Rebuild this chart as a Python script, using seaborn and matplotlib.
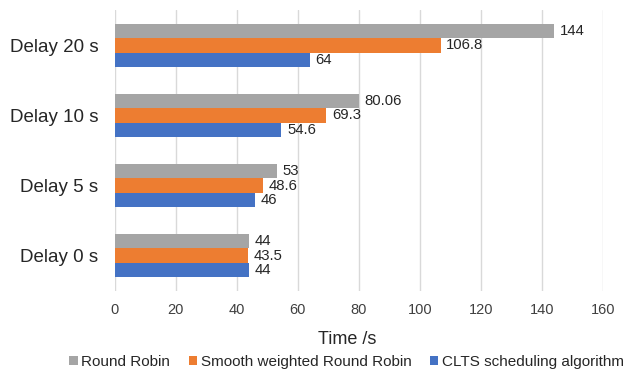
import numpy as np
import pandas as pd
import matplotlib
matplotlib.use('Agg')
import matplotlib.pyplot as plt
import seaborn as sns

# Data
delays = ['Delay 20 s', 'Delay 10 s', 'Delay 5 s', 'Delay 0 s']
algorithms = ['Round Robin', 'Smooth weighted Round Robin', 'CLTS scheduling algorithm']
round_robin = [144, 80.06, 53, 44]
smooth_wrr = [106.8, 69.3, 48.6, 43.5]
clts = [64, 54.6, 46, 44]
colors = ['#A5A5A5', '#ED7D31', '#4472C4']

df = pd.DataFrame({
    'delay': delays * 3,
    'algorithm': np.repeat(algorithms, len(delays)),
    'time': round_robin + smooth_wrr + clts,
})

sns.set_style('white')
plt.rcParams['font.family'] = ['Liberation Sans', 'DejaVu Sans']
txt = '#262626'

fig = plt.figure(figsize=(6.28, 3.73), dpi=100)
ax = fig.add_axes([0.183, 0.221, 0.777, 0.751])

sns.barplot(data=df, y='delay', x='time', hue='algorithm', order=delays,
            hue_order=algorithms, palette=colors, orient='h', width=0.62,
            gap=0, linewidth=0, saturation=1, ax=ax, legend=True)

# value labels at bar ends
for cont in ax.containers:
    vals = [r.get_width() for r in cont]
    ax.bar_label(cont, labels=[f'{v:g}' for v in vals], padding=4,
                 fontsize=10.7, color=txt)

ax.set_xlim(0, 160)
ax.set_xticks(np.arange(0, 161, 20))
ax.grid(axis='x', color='#D9D9D9', linewidth=1)
ax.set_axisbelow(True)
for s in ax.spines.values():
    s.set_visible(False)
ax.tick_params(axis='x', labelsize=10.5, colors='#404040', pad=9, length=0)
ax.tick_params(axis='y', labelsize=13.5, colors=txt, pad=12, length=0)
ax.set_ylabel('')
ax.set_xlabel('Time /s', fontsize=13, color=txt)
ax.xaxis.set_label_coords(0.475, -0.143)

ax.legend(loc='center', bbox_to_anchor=(0.552, 0.03), bbox_transform=fig.transFigure,
          ncol=3, frameon=False, fontsize=11, handlelength=0.55, handleheight=0.55,
          handletextpad=0.25, columnspacing=1.2, borderpad=0, labelcolor=txt)

fig.savefig('out.png', dpi=100)
